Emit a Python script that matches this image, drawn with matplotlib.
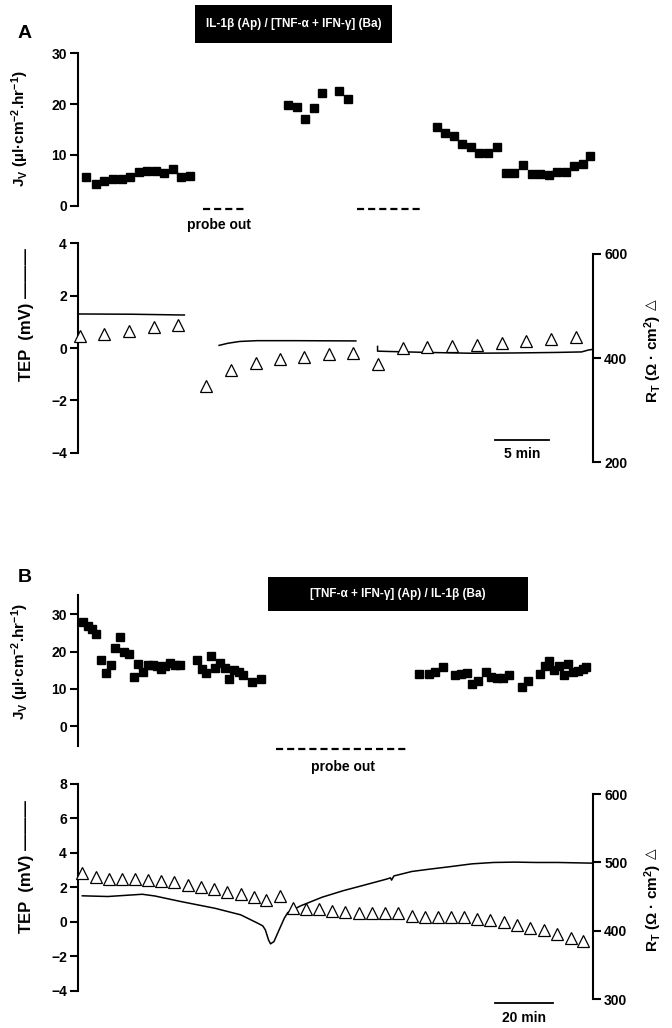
import matplotlib
matplotlib.use("Agg")
import matplotlib.pyplot as plt
from matplotlib.patches import Rectangle

plt.rcParams['font.family'] = ['Liberation Sans', 'DejaVu Sans']
plt.rcParams['font.weight'] = 'bold'
plt.rcParams['mathtext.default'] = 'regular'

# ---- panel A data (time in min) ----
jvA_t = [0.78, 1.65, 2.43, 3.22, 4.01, 4.79, 5.58, 6.37, 7.16, 7.94, 8.73, 9.52, 10.30,
         19.36, 20.14, 20.93, 21.72, 22.5, 24.08, 24.87,
         33.05, 33.84, 34.63, 35.41, 36.2, 36.99, 37.77, 38.56, 39.43, 40.21,
         41.0, 41.79, 42.57, 43.36, 44.15, 44.93, 45.72, 46.51, 47.2]
jvA_v = [5.7, 4.3, 4.9, 5.2, 5.2, 5.7, 6.7, 6.8, 6.8, 6.5, 7.2, 5.7, 5.8,
         19.8, 19.4, 17.0, 19.3, 22.1, 22.6, 21.1,
         15.4, 14.4, 13.8, 12.1, 11.5, 10.3, 10.4, 11.6, 6.5, 6.5,
         8.1, 6.2, 6.2, 6.0, 6.7, 6.7, 7.9, 8.2, 9.7]
rtA_t = [0.19, 2.44, 4.72, 6.96, 9.24, 11.8, 14.08, 16.37, 18.61, 20.85, 23.13,
         25.37, 27.62, 29.9, 32.18, 34.5, 36.79, 39.07, 41.31, 43.6, 45.84]
rtA_v = [441.6, 446.7, 453, 458.9, 464, 345.6, 377.6, 390.4, 398, 403, 408,
         409.6, 388.5, 419, 420.5, 422.4, 425.6, 428.8, 432, 437, 440]
tepA_segs = [
    ([0.1, 5.0, 9.8], [1.30, 1.29, 1.26]),
    ([13.0, 13.8, 14.9, 16.5, 20.0, 25.6], [0.10, 0.18, 0.25, 0.28, 0.28, 0.27]),
    ([27.6, 27.6, 28.4, 32.3, 36.2, 40.1, 44.0, 46.4, 47.0, 47.45],
     [0.06, -0.12, -0.13, -0.17, -0.20, -0.19, -0.17, -0.15, -0.08, -0.05]),
]
probeA_start = [11.5, 25.7]
probeA_end = [15.4, 31.5]

# ---- panel B data ----
jvB_t = [1.84, 3.33, 4.94, 6.44, 8.16, 9.66, 11.38, 12.99, 14.6, 16.2, 17.7, 19.4, 21.0,
         22.5, 24.3, 26.0, 27.5, 28.9, 30.2, 32.1, 33.7, 35.4,
         41.5, 43.2, 44.7, 46.3, 47.9, 49.5, 51.3, 52.8, 54.4, 56.1, 57.6, 60.8, 63.9,
         118.9, 122.5, 124.6, 127.1, 131.5, 133.4, 135.7, 137.5, 139.5, 142.1, 144.1,
         146.1, 148.0, 150.3, 154.7, 156.8, 161.0, 162.8, 164.3, 166.0, 167.6, 169.3,
         170.8, 172.5, 174.3, 176.0, 177.1]
jvB_v = [28.0, 26.8, 26.0, 24.8, 17.7, 14.3, 16.3, 21.0, 23.8, 19.8, 19.3, 13.1, 16.6,
         14.5, 16.3, 16.5, 16.1, 15.2, 16.0, 16.8, 16.4, 16.4,
         17.7, 15.2, 14.3, 18.7, 15.7, 16.8, 15.7, 12.5, 15.1, 14.5, 13.7, 11.8, 12.5,
         13.9, 14.1, 14.5, 15.8, 13.7, 14.1, 14.2, 11.3, 12.2, 14.5, 13.2,
         12.9, 12.8, 13.7, 10.4, 12.1, 14.0, 16.1, 17.5, 15.1, 16.1, 13.7,
         16.7, 14.5, 14.8, 15.4, 15.9]
rtB_t = [1.5, 6.2, 10.7, 15.2, 19.8, 24.3, 28.8, 33.6, 38.2, 42.7, 47.3, 51.9, 56.7,
         61.2, 65.7, 70.4, 75.1, 79.6, 84.0, 88.6, 93.2, 97.9, 102.5, 107.1, 111.6,
         116.4, 120.9, 125.4, 130.1, 134.6, 139.2, 143.7, 148.5, 153.0, 157.7, 162.4,
         166.9, 171.7, 176.1]
rtB_v = [484.3, 478.4, 476, 475.5, 475.5, 474.5, 473.5, 471, 467, 463.7, 460.8, 457.4,
         453.9, 449, 445, 451, 433.8, 431.9, 431.9, 429.4, 427.5, 426.5, 425.5, 425.5,
         425.5, 422, 420.6, 420.6, 419.6, 419.6, 418, 415.7, 412.3, 408.3, 404.4, 401,
         396, 390, 385.3]
tepB_t = [1.5, 10.4, 22.4, 26.8, 35.8, 47.7, 56.7, 62.7, 64.4, 65.3, 66.4, 67.1, 68.3,
          70.1, 71.9, 73.1, 77.6, 85.1, 92.5, 100.0, 107.4, 108.9, 109.3, 110.1, 116.4,
          122.4, 129.8, 137.3, 144.8, 152.2, 159.7, 167.2, 179.5]
tepB_v = [1.51, 1.47, 1.6, 1.5, 1.18, 0.79, 0.41, -0.08, -0.23, -0.46, -1.04, -1.27, -1.14,
          -0.46, 0.21, 0.54, 0.93, 1.43, 1.81, 2.14, 2.47, 2.55, 2.42, 2.66, 2.92,
          3.05, 3.2, 3.36, 3.44, 3.46, 3.44, 3.44, 3.4]
probeB_start = [69.0]
probeB_end = [114.5]

W, H = 672, 1028
RIGHT = 593
fig = plt.figure(figsize=(W / 100, H / 100), dpi=100)


def px_axes(left, top, right, bottom):
    return fig.add_axes([left / W, 1 - bottom / H, (right - left) / W, (bottom - top) / H])


def ylim_from(ax, v1, p1, v2, p2, top, bottom):
    k = (v2 - v1) / (p2 - p1)
    ax.set_ylim(v1 + (bottom - p1) * k, v1 + (top - p1) * k)


def style(ax, side='left'):
    for s in ['top', 'bottom', 'left', 'right']:
        ax.spines[s].set_visible(s == side)
    ax.spines[side].set_linewidth(1.5)
    ax.tick_params(axis='y', direction='out', length=6, width=1.5, labelsize=10,
                   left=(side == 'left'), right=(side == 'right'),
                   labelleft=(side == 'left'), labelright=(side == 'right'), pad=2)
    ax.set_xticks([])
    for lab in ax.get_yticklabels():
        lab.set_fontweight('bold')
    ax.patch.set_visible(False)


def dashes(ax, starts, ends, y):
    for a, b in zip(starts, ends):
        ax.plot([a, b], [y, y], color='black', lw=1.6, ls=(0, (3.2, 1.8)), clip_on=False)


def label_box(x0, y0, x1, y1, txt):
    fig.add_artist(Rectangle((x0 / W, 1 - y1 / H), (x1 - x0) / W, (y1 - y0) / H,
                             transform=fig.transFigure, facecolor='black', edgecolor='none'))
    fig.text((x0 + x1) / 2 / W, 1 - (y0 + y1) / 2 / H, txt, color='white', fontsize=8.5,
             fontweight='bold', ha='center', va='center')


def rt_axis_label(ycenter):
    # R_T label with the open triangle symbol drawn above it
    fig.text(653 / W, 1 - (ycenter + 8) / H, 'R$_{T}$ (Ω · cm$^{2}$)', rotation=90,
             fontsize=11, fontweight='bold', ha='center', va='center')
    fig.text(651 / W, 1 - (ycenter - 46) / H, '△', rotation=90, fontsize=10,
             family='DejaVu Sans', ha='center', va='center')


sq = dict(marker='s', ms=5.5, color='black', ls='none', clip_on=False)
tri = dict(marker='^', ms=8.5, mfc='white', mec='black', mew=0.9, ls='none', clip_on=False)
jv_label = 'J$_{V}$ (µl·cm$^{-2}$.hr$^{-1}$)'
tep_label = 'TEP  (mV) ———'

# ================= Panel A =================
axA = px_axes(78, 53.3, RIGHT, 205.7)
axA.set_xlim(0, 47.45)
axA.set_ylim(0, 30)
axA.plot(jvA_t, jvA_v, **sq)
axA.set_yticks([0, 10, 20, 30])
style(axA)
dashes(axA, probeA_start, probeA_end, -0.65)
axA.text(13.0, -3.8, 'probe out', ha='center', va='center', fontsize=10, fontweight='bold')

axA2 = px_axes(78, 243.3, RIGHT, 462.3)
axA2.set_xlim(0, 47.45)
ylim_from(axA2, 4, 243.3, -4, 452.7, 243.3, 462.3)
for t, v in tepA_segs:
    axA2.plot(t, v, color='black', lw=1.1)
axA2.set_yticks([-4, -2, 0, 2, 4])
style(axA2)
axA2.spines['left'].set_bounds(-4, 4)
axA2.plot([38.4, 43.4], [-3.5, -3.5], color='black', lw=1.3, clip_on=False)
axA2.text(40.9, -4.05, '5 min', ha='center', va='center', fontsize=10, fontweight='bold')

axA3 = axA2.twinx()
ylim_from(axA3, 600, 254, 200, 462.3, 243.3, 462.3)
axA3.plot(rtA_t, rtA_v, **tri)
axA3.set_yticks([200, 400, 600])
style(axA3, 'right')
axA3.spines['right'].set_bounds(200, 600)

label_box(195, 5, 392, 43, 'IL-1β (Ap) / [TNF-α + IFN-γ] (Ba)')
fig.text(18 / W, 1 - 33 / H, 'A', fontsize=14, fontweight='bold', ha='left', va='center')
fig.text(20 / W, 1 - 129 / H, jv_label, rotation=90, fontsize=11, fontweight='bold',
         ha='center', va='center')
fig.text(27 / W, 1 - 315 / H, tep_label, rotation=90, fontsize=12, fontweight='bold',
         ha='center', va='center')
rt_axis_label(351)

# ================= Panel B =================
axB = px_axes(78, 595, RIGHT, 746)
axB.set_xlim(0, 179.5)
ylim_from(axB, 30, 614.3, 0, 726, 595, 746)
axB.plot(jvB_t, jvB_v, **sq)
axB.set_yticks([0, 10, 20, 30])
style(axB)
dashes(axB, probeB_start, probeB_end, -6.3)
axB.text(92.5, -11.1, 'probe out', ha='center', va='center', fontsize=10, fontweight='bold')

axB2 = px_axes(78, 783.7, RIGHT, 999.3)
axB2.set_xlim(0, 179.5)
ylim_from(axB2, 8, 783.7, -4, 991, 783.7, 999.3)
axB2.plot(tepB_t, tepB_v, color='black', lw=1.1)
axB2.set_yticks([-4, -2, 0, 2, 4, 6, 8])
style(axB2)
axB2.spines['left'].set_bounds(-4, 8)
axB2.plot([145.5, 165.7], [-4.7, -4.7], color='black', lw=1.3, clip_on=False)
axB2.text(155.6, -5.54, '20 min', ha='center', va='center', fontsize=10, fontweight='bold')

axB3 = axB2.twinx()
ylim_from(axB3, 600, 794, 300, 999.3, 783.7, 999.3)
axB3.plot(rtB_t, rtB_v, **tri)
axB3.set_yticks([300, 400, 500, 600])
style(axB3, 'right')
axB3.spines['right'].set_bounds(300, 600)

label_box(268, 577, 528, 611, '[TNF-α + IFN-γ] (Ap) / IL-1β (Ba)')
fig.text(18 / W, 1 - 577 / H, 'B', fontsize=14, fontweight='bold', ha='left', va='center')
fig.text(20 / W, 1 - 662 / H, jv_label, rotation=90, fontsize=11, fontweight='bold',
         ha='center', va='center')
fig.text(27 / W, 1 - 867 / H, tep_label, rotation=90, fontsize=12, fontweight='bold',
         ha='center', va='center')
rt_axis_label(900)

fig.savefig('out.png', dpi=100)
